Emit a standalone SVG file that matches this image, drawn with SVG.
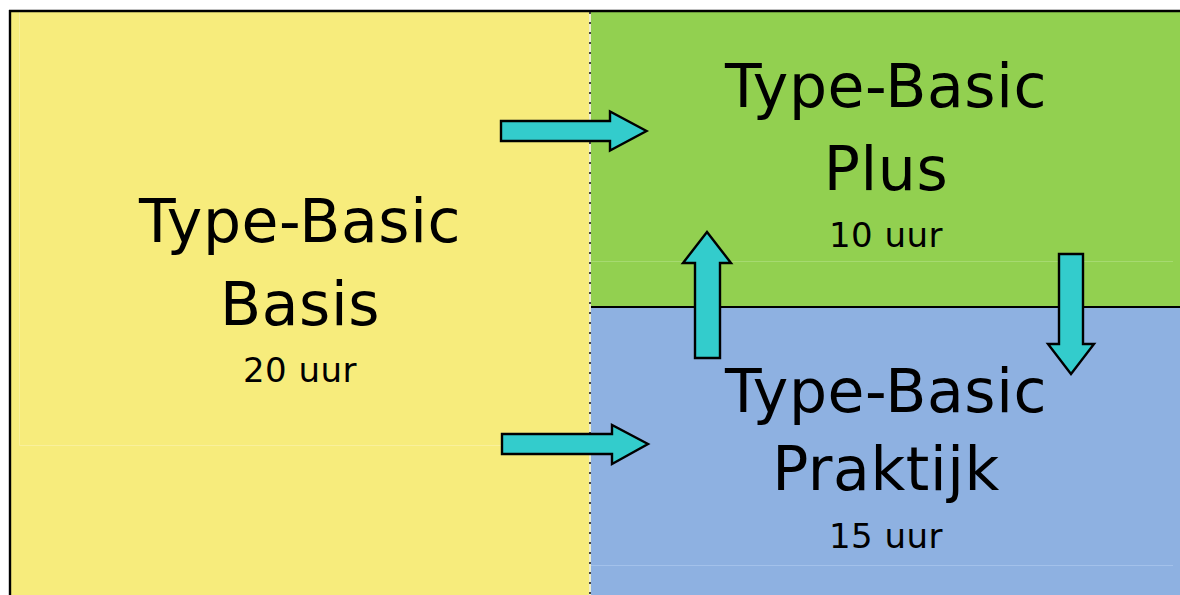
<svg xmlns="http://www.w3.org/2000/svg" width="1180" height="595" viewBox="0 0 1180 595">
<style>
.big{font-family:"DejaVu Sans",Verdana,sans-serif;font-size:60px;letter-spacing:0.6px;fill:#000;text-anchor:middle}
.small{font-family:"DejaVu Sans",Verdana,sans-serif;font-size:34px;letter-spacing:0.5px;fill:#000;text-anchor:middle}
.arrow{fill:#33CCCC;stroke:#000;stroke-width:2.4;stroke-linejoin:miter}
</style>
<rect x="0" y="0" width="1180" height="595" fill="#fff"/>
<g id="basis">
<rect x="11" y="12" width="580" height="583" fill="#F7EC7C"/>
<path d="M19.5 12 V445.5 H590" fill="none" stroke="#F9F09C" stroke-width="1"/>
<text class="big" x="300" y="242">Type-Basic</text>
<text class="big" x="300" y="325">Basis</text>
<text class="small" x="300" y="382">20 uur</text>
</g>
<g id="plus">
<rect x="591" y="12" width="589" height="295" fill="#92D050"/>
<line x1="591" y1="261.5" x2="1173" y2="261.5" stroke="#A6DA70" stroke-width="1"/>
<text class="big" x="886" y="107">Type-Basic</text>
<text class="big" x="886" y="190">Plus</text>
<text class="small" x="886" y="247">10 uur</text>
</g>
<g id="praktijk">
<rect x="591" y="307" width="589" height="288" fill="#8EB1E1"/>
<line x1="591" y1="565.5" x2="1173" y2="565.5" stroke="#A3C1EA" stroke-width="1"/>
<text class="big" x="886" y="412">Type-Basic</text>
<text class="big" x="886" y="490">Praktijk</text>
<text class="small" x="886" y="548">15 uur</text>
</g>
<g id="frame">
<line x1="590" y1="12" x2="590" y2="595" stroke="#EEEED0" stroke-width="2"/>
<line x1="590" y1="12" x2="590" y2="595" stroke="#444" stroke-width="2" stroke-dasharray="2 8"/>
<line x1="591" y1="307" x2="1180" y2="307" stroke="#000" stroke-width="2"/>
<line x1="9" y1="11" x2="1180" y2="11" stroke="#000" stroke-width="2.4"/>
<line x1="10" y1="10" x2="10" y2="595" stroke="#000" stroke-width="2.4"/>
</g>
<g id="connectors">
<polygon class="arrow" points="501,121 610,121 610,111.5 646.5,131 610,150.5 610,141 501,141"/>
<polygon class="arrow" points="502,434 612,434 612,425 648,444 612,464 612,454 502,454"/>
<polygon class="arrow" points="695,358 695,263 683,263 707,232 731,263 720,263 720,358"/>
<polygon class="arrow" points="1059,254 1083,254 1083,344 1094,344 1071,374 1048,344 1059,344"/>
</g>
</svg>
